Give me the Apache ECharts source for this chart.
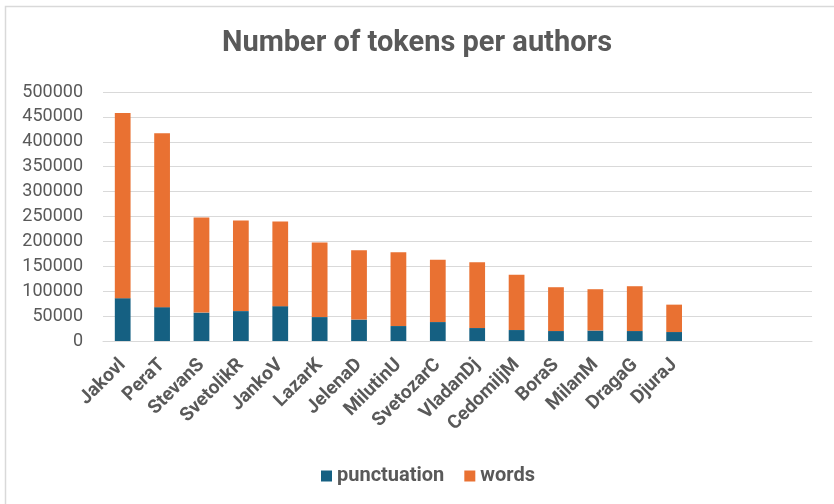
<!DOCTYPE html>
<html>
<head>
<meta charset="utf-8">
<script src="https://cdn.jsdelivr.net/npm/echarts@6/dist/echarts.min.js"></script>
<style>
  html, body { margin: 0; padding: 0; background: #ffffff; }
  #chart { width: 834px; height: 504px; }
</style>
</head>
<body>
<div id="chart"></div>
<script>
// Authors; the last three slots on the axis are left empty
const authors = ['Jakovl', 'PeraT', 'StevanS', 'SvetolikR', 'JankoV', 'LazarK', 'JelenaD',
  'MilutinU', 'SvetozarC', 'VladanDj', 'CedomiljM', 'BoraS', 'MilanM', 'DragaG', 'DjuraJ', '', '', ''];

// Token counts per author
const punctuation = [86000, 68000, 57000, 60000, 70000, 48000, 43000, 30000, 38000, 26000, 22000, 20000, 21000, 20000, 18000];
const words = [372000, 349000, 191000, 182000, 170000, 150000, 139000, 148000, 125000, 132000, 111000, 88000, 83000, 90000, 55000];

const yTicks = { min: 0, max: 500000, interval: 50000 };

const textGray = '#595959';
const chart = echarts.init(document.getElementById('chart'));

chart.setOption({
  animation: false,
  backgroundColor: '#ffffff',
  title: {
    text: 'Number of tokens per authors',
    left: 'center',
    top: 24,
    textStyle: { fontFamily: 'Roboto', fontWeight: 'bold', fontSize: 29, color: textGray }
  },
  graphic: [{
    type: 'rect',
    shape: { x: 5.5, y: 6.5, width: 900, height: 600 },
    style: { fill: 'none', stroke: '#D9D9D9', lineWidth: 1.5 },
    silent: true
  }],
  legend: {
    top: 461,
    left: 316,
    itemWidth: 11,
    itemHeight: 11,
    itemGap: 20,
    icon: 'rect',
    textStyle: { fontFamily: 'Roboto', fontWeight: 'bold', fontSize: 20, color: textGray },
    data: ['punctuation', 'words']
  },
  grid: { left: 103, right: 22, top: 92, bottom: 163, containLabel: false },
  xAxis: {
    type: 'category',
    data: authors,
    axisLine: { lineStyle: { color: '#D9D9D9', width: 1 } },
    axisTick: { show: false },
    axisLabel: {
      interval: 0,
      rotate: 45,
      margin: 21,
      fontFamily: 'Roboto',
      fontWeight: 'bold',
      fontSize: 19,
      color: textGray
    }
  },
  yAxis: {
    type: 'value',
    min: yTicks.min,
    max: yTicks.max,
    interval: yTicks.interval,
    axisLine: { show: false },
    axisTick: { show: false },
    splitLine: { lineStyle: { color: '#D9D9D9', width: 1.2 } },
    axisLabel: {
      fontFamily: 'Roboto',
      fontSize: 18,
      color: textGray,
      margin: 20,
      formatter: v => String(v)
    }
  },
  series: [
    {
      name: 'punctuation',
      type: 'bar',
      stack: 'tokens',
      data: punctuation,
      barWidth: '40%',
      itemStyle: { color: '#156082' }
    },
    {
      name: 'words',
      type: 'bar',
      stack: 'tokens',
      data: words,
      barWidth: '40%',
      itemStyle: { color: '#E97132' }
    }
  ]
});
</script>
</body>
</html>
